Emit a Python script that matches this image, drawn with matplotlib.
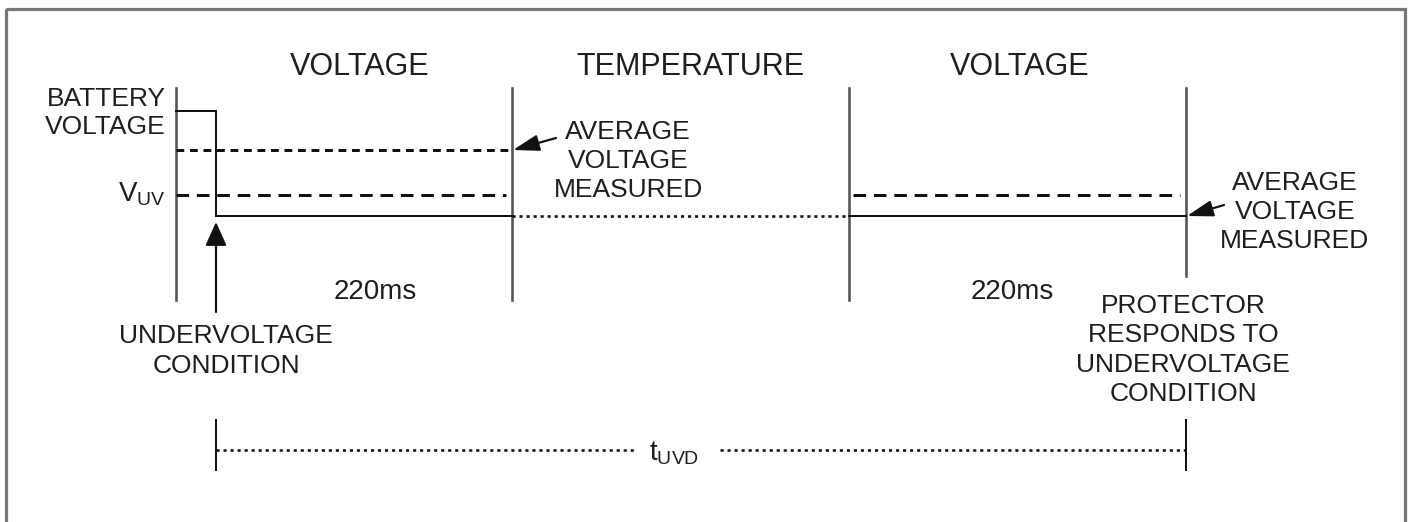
import matplotlib
matplotlib.use("Agg")
import matplotlib.pyplot as plt
from matplotlib.patches import Rectangle

plt.rcParams["font.family"] = ["Liberation Sans", "DejaVu Sans"]
plt.rcParams["mathtext.fontset"] = "custom"
plt.rcParams["mathtext.rm"] = "Liberation Sans"
plt.rcParams["mathtext.it"] = "Liberation Sans"

W, H, DPI = 1408, 522, 100

# timeline positions (pixel-ish units on a 1408 x 522 canvas)
MARK_X = [176, 216, 512, 849, 1186]          # battery axis, UV event, window edges
WINDOW_X = [512, 849, 1186]
PHASES = ["VOLTAGE", "TEMPERATURE", "VOLTAGE"]
PHASE_X = [360, 690, 1020]
LEVEL_HIGH = 111          # battery voltage before the drop
LEVEL_AVG = 150           # average voltage measured in first window
LEVEL_UV = 195            # undervoltage threshold
LEVEL_LOW = 216           # battery voltage after the drop
WINDOW_LABELS = ["220ms", "220ms"]
WINDOW_LABEL_X = [375, 1012]

TEXT_COLOR = "#1e1e1e"
LINE_GRAY = "#555555"


def pt(px):
    return px * 72.0 / DPI


fig = plt.figure(figsize=(W / DPI, H / DPI), dpi=DPI)
ax = fig.add_axes([0, 0, 1, 1])
ax.set_xlim(0, W)
ax.set_ylim(H, 0)
ax.axis("off")

# outer frame
ax.add_patch(Rectangle((6, 9), 1399, 530, fill=False, edgecolor="#777777", linewidth=pt(3.2)))

# vertical markers
ax.plot([MARK_X[0]] * 2, [88, 300], color=LINE_GRAY, linewidth=pt(2.6))
for x in WINDOW_X[:-1]:
    ax.plot([x, x], [88, 300], color=LINE_GRAY, linewidth=pt(2.6))
ax.plot([WINDOW_X[-1]] * 2, [88, 276], color=LINE_GRAY, linewidth=pt(2.6))

# battery voltage trace
ax.plot([MARK_X[0], MARK_X[1], MARK_X[1], WINDOW_X[0]],
        [LEVEL_HIGH, LEVEL_HIGH, LEVEL_LOW, LEVEL_LOW],
        color="#111111", linewidth=pt(2.0), solid_joinstyle="miter")
ax.plot([WINDOW_X[0], WINDOW_X[1]], [LEVEL_LOW, LEVEL_LOW], color="#111111",
        linewidth=pt(2.6), dashes=(1.2, 1.5))
ax.plot([WINDOW_X[1], WINDOW_X[2]], [LEVEL_LOW, LEVEL_LOW], color="#111111", linewidth=pt(2.0))

# average voltage (short dashes) and V_UV threshold (long dashes)
ax.plot([MARK_X[0], WINDOW_X[0]], [LEVEL_AVG, LEVEL_AVG], color="#111111",
        linewidth=pt(3.0), dashes=(2.6, 1.9))
ax.plot([MARK_X[0], WINDOW_X[0] - 6], [LEVEL_UV, LEVEL_UV], color="#111111",
        linewidth=pt(3.0), dashes=(4.2, 2.6))
ax.plot([WINDOW_X[1] + 4, WINDOW_X[2] - 6], [LEVEL_UV, LEVEL_UV], color="#111111",
        linewidth=pt(3.0), dashes=(4.2, 2.6))

# undervoltage arrow
ax.annotate("", xy=(MARK_X[1], LEVEL_LOW + 6), xytext=(MARK_X[1], 312),
            arrowprops=dict(arrowstyle="-|>,head_length=1.45,head_width=0.65",
                            color="#111111", linewidth=pt(2.2), shrinkA=0, shrinkB=0))

# average-voltage-measured arrows
ax.annotate("", xy=(WINDOW_X[0] + 1, LEVEL_AVG), xytext=(556, 138),
            arrowprops=dict(arrowstyle="-|>,head_length=1.6,head_width=0.5",
                            color="#111111", linewidth=pt(2.2), shrinkA=0, shrinkB=0))
ax.annotate("", xy=(WINDOW_X[2] + 1, LEVEL_LOW), xytext=(1224, 205),
            arrowprops=dict(arrowstyle="-|>,head_length=1.6,head_width=0.5",
                            color="#111111", linewidth=pt(2.2), shrinkA=0, shrinkB=0))

# tUVD span
ax.plot([MARK_X[1]] * 2, [420, 470], color="#111111", linewidth=pt(2.0))
ax.plot([WINDOW_X[2]] * 2, [420, 470], color="#111111", linewidth=pt(2.0))
ax.plot([MARK_X[1], 636], [450, 450], color="#111111", linewidth=pt(2.6), dashes=(1.2, 1.5))
ax.plot([720, WINDOW_X[2]], [450, 450], color="#111111", linewidth=pt(2.6), dashes=(1.2, 1.5))
ax.text(674, 453, r"$\mathrm{t_{UVD}}$", ha="center", va="center", fontsize=20, color=TEXT_COLOR)

# labels
for name, x in zip(PHASES, PHASE_X):
    ax.text(x, 67, name, ha="center", va="center", fontsize=22, color=TEXT_COLOR)

ax.text(166, 113, "BATTERY\nVOLTAGE", ha="right", va="center", fontsize=19,
        color=TEXT_COLOR, linespacing=1.25)
ax.text(166, 194, r"$\mathrm{V_{UV}}$", ha="right", va="center", fontsize=20, color=TEXT_COLOR)

ax.text(628, 161, "AVERAGE\nVOLTAGE\nMEASURED", ha="center", va="center", fontsize=19,
        color=TEXT_COLOR, linespacing=1.27)
ax.text(1295, 212, "AVERAGE\nVOLTAGE\nMEASURED", ha="center", va="center", fontsize=19,
        color=TEXT_COLOR, linespacing=1.27)

for label, x in zip(WINDOW_LABELS, WINDOW_LABEL_X):
    ax.text(x, 292, label, ha="center", va="center", fontsize=20, color=TEXT_COLOR)

ax.text(226, 351, "UNDERVOLTAGE\nCONDITION", ha="center", va="center", fontsize=19,
        color=TEXT_COLOR, linespacing=1.27)
ax.text(1183, 350, "PROTECTOR\nRESPONDS TO\nUNDERVOLTAGE\nCONDITION", ha="center",
        va="center", fontsize=19, color=TEXT_COLOR, linespacing=1.27)

fig.savefig("out.png", dpi=DPI, facecolor="white")
